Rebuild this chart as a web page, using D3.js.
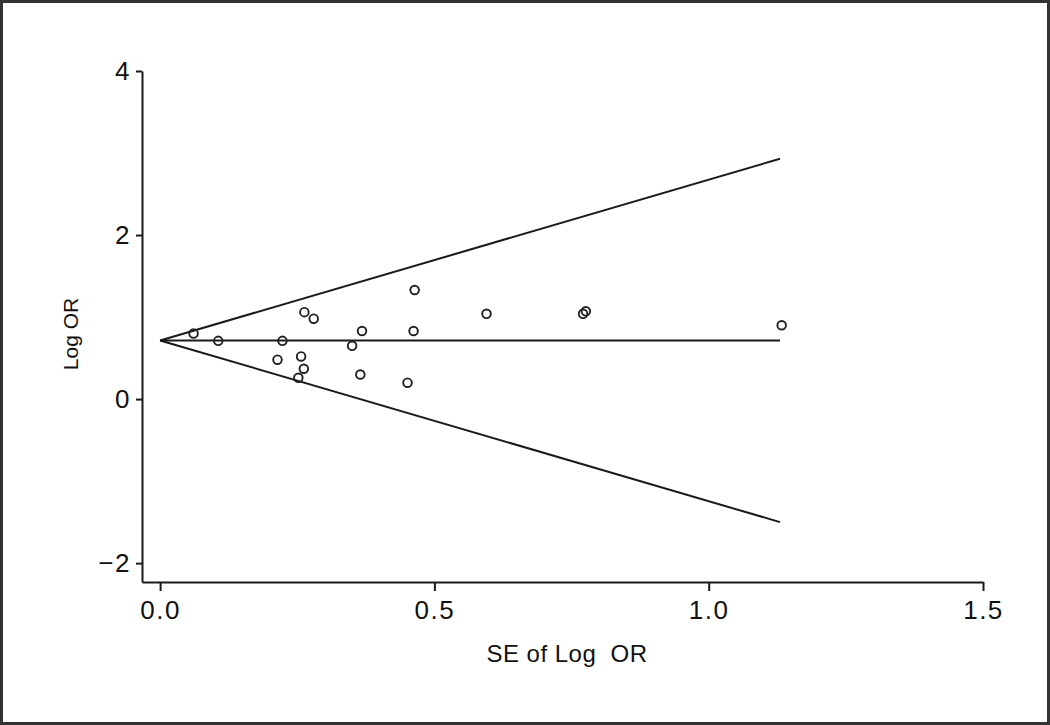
<!DOCTYPE html>
<html>
<head>
<meta charset="utf-8">
<script src="https://cdn.jsdelivr.net/npm/d3@7"></script>
<style>
  body { margin: 0; background: #fff; }
  svg { display: block; font-family: "Liberation Sans", Arial, sans-serif; }
</style>
</head>
<body>
<div id="chart"></div>
<script>
// 图尺寸
const width = 1050;
const height = 725;

// 数据：各研究的 SE 与 log OR
var se_values = [0.061, 0.106, 0.223, 0.263, 0.280, 0.214, 0.257, 0.262, 0.252,
    0.464, 0.595, 0.368, 0.462, 0.350, 0.365, 0.451, 0.771, 0.776, 1.133];
var log_or_values = [0.80, 0.71, 0.71, 1.06, 0.98, 0.48, 0.52, 0.37, 0.26,
    1.33, 1.04, 0.83, 0.83, 0.65, 0.30, 0.20, 1.04, 1.07, 0.90];

var pooled_log_or = 0.715; // 合并效应
var se_max = 1.13;         // 漏斗线终点

var x_ticks = [0, 0.5, 1.0, 1.5];
var y_ticks = [-2, 0, 2, 4];

var svg = d3.select("#chart").append("svg")
    .attr("width", width).attr("height", height);

// 外框
svg.append("rect")
    .attr("x", 1.5).attr("y", 1.5)
    .attr("width", width - 3).attr("height", height - 3)
    .attr("fill", "#fff")
    .attr("stroke", "#333")
    .attr("stroke-width", 3);

var x = d3.scaleLinear().domain([-0.033, 1.5]).range([142, 983]);
var y = d3.scaleLinear().domain([-2.23, 4]).range([582, 71]);

// x 轴
svg.append("g")
    .attr("transform", "translate(0," + y.range()[0] + ")")
    .call(d3.axisBottom(x)
        .tickValues(x_ticks)
        .tickFormat(d3.format(".1f"))
        .tickSizeInner(9)
        .tickSizeOuter(0)
        .tickPadding(10));

// y 轴
svg.append("g")
    .attr("transform", "translate(" + x.range()[0] + ",0)")
    .call(d3.axisLeft(y)
        .tickValues(y_ticks)
        .tickFormat(d => d < 0 ? "\u2212" + Math.abs(d) : d)
        .tickSizeInner(6)
        .tickSizeOuter(0)
        .tickPadding(5));

svg.selectAll(".domain").attr("stroke", "#1a1a1a").attr("stroke-width", 2);
svg.selectAll(".tick line").attr("stroke", "#1a1a1a").attr("stroke-width", 2);
svg.selectAll(".tick text")
    .attr("fill", "#111")
    .attr("font-size", 26)
    .attr("letter-spacing", 1.5)
    .attr("font-family", "Liberation Sans, Arial, sans-serif");

// 轴标题
svg.append("text")
    .attr("x", 567).attr("y", 662)
    .attr("text-anchor", "middle")
    .attr("font-size", 24)
    .attr("letter-spacing", 0.5)
    .attr("fill", "#111")
    .text("SE of Log\u00a0 OR");

svg.append("text")
    .attr("transform", "translate(78," + 334 + ") rotate(-90)")
    .attr("text-anchor", "middle")
    .attr("font-size", 21)
    .attr("fill", "#111")
    .text("Log OR");

// 漏斗线
var funnel = [
    [[0, pooled_log_or], [se_max, pooled_log_or + 1.96 * se_max]],
    [[0, pooled_log_or], [se_max, pooled_log_or]],
    [[0, pooled_log_or], [se_max, pooled_log_or - 1.96 * se_max]]
];

var line = d3.line().x(d => x(d[0])).y(d => y(d[1]));

svg.append("g")
    .selectAll("path")
    .data(funnel)
    .enter()
    .append("path")
    .attr("d", line)
    .attr("fill", "none")
    .attr("stroke", "#1a1a1a")
    .attr("stroke-width", 2);

// 散点
svg.append("g")
    .selectAll("circle")
    .data(se_values.map((s, i) => [s, log_or_values[i]]))
    .enter()
    .append("circle")
    .attr("cx", d => x(d[0]))
    .attr("cy", d => y(d[1]))
    .attr("r", 4.3)
    .attr("fill", "none")
    .attr("stroke", "#222")
    .attr("stroke-width", 1.9);
</script>
</body>
</html>
